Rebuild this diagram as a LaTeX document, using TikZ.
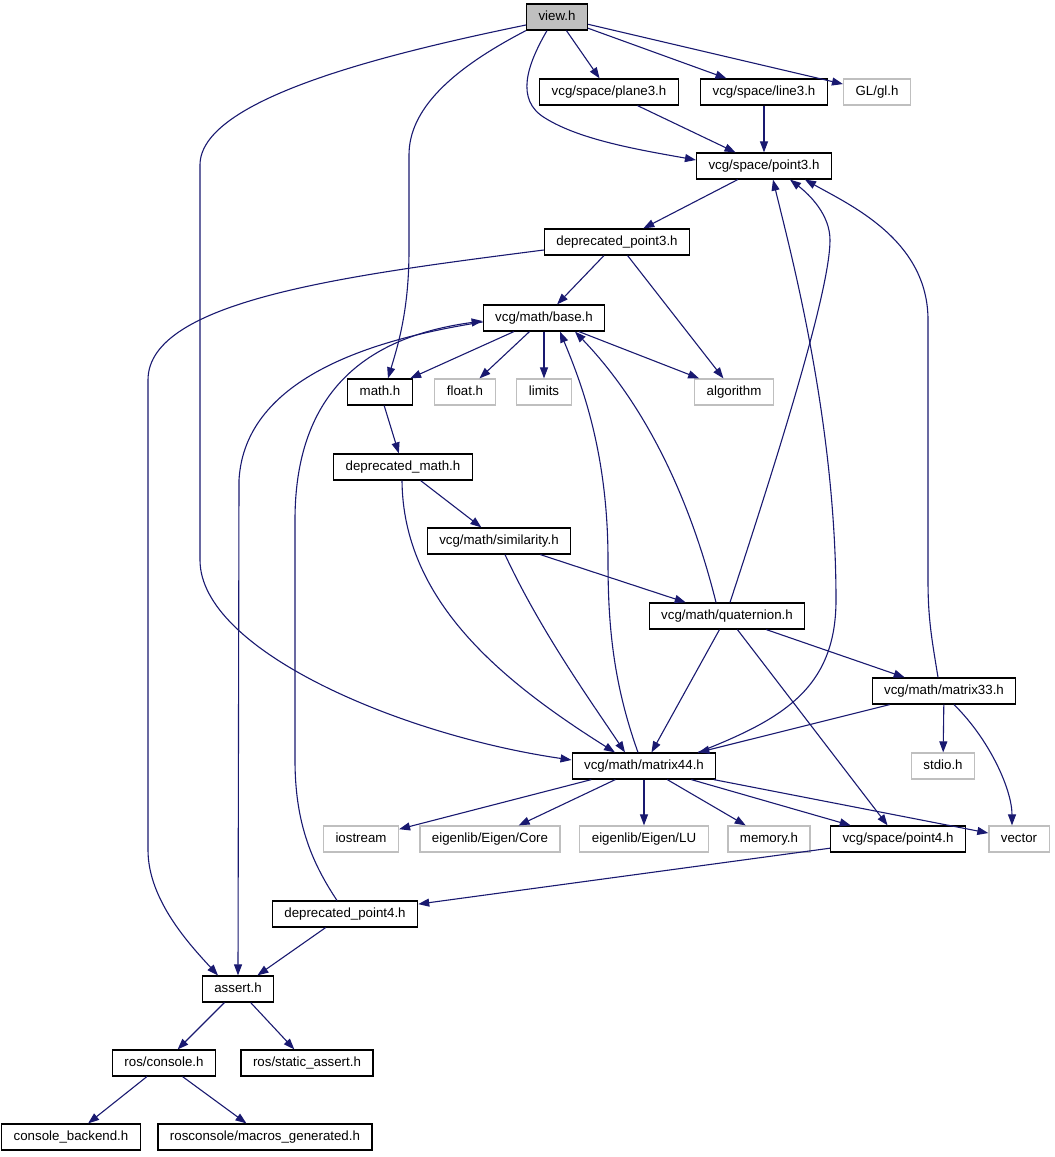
\documentclass[tikz,border=0pt]{standalone}
\usepackage{fontspec}
\setmainfont{Liberation Sans}
\usepackage{tikz}
\usetikzlibrary{arrows.meta,positioning,calc}
\definecolor{edgeblue}{HTML}{191970}
\definecolor{missgray}{HTML}{BFBFBF}
\tikzset{hdr/.style={draw=black,line width=1.2pt,rectangle,minimum height=26pt,inner xsep=12pt,inner ysep=0pt,text height=9.6pt,text depth=2.6pt,font=\fontsize{13.3}{16}\selectfont}}
\tikzset{sys/.style={hdr,draw=missgray}}
\tikzset{inc/.style={->,draw=edgeblue,line width=1.1pt}}

\begin{document}
\begin{tikzpicture}[x=1pt, y=-1pt, >={Triangle[length=11pt,width=8pt]}]
    \useasboundingbox (0,0) rectangle (1055,1157);
    \node[hdr,fill=missgray] (view) at (557,17) {view.h};

    \node[hdr] (plane) at (609,92) {vcg/space/plane3.h};
    \node[hdr] (line) at (764,92) {vcg/space/line3.h};
    \node[sys] (gl) at (877,92) {GL/gl.h};
    \node[hdr] (pointT) at (764,166) {vcg/space/point3.h};
    \node[hdr] (dpointT) at (617,242) {deprecated\_point3.h};

    \node[hdr] (base) at (544,318) {vcg/math/base.h};
    \node[hdr] (mathh) at (380,392) {math.h};
    \node[sys] (floath) at (465,392) {float.h};
    \node[sys] (limits) at (544,392) {limits};
    \node[sys] (algorithm) at (734,392) {algorithm};

    \node[hdr] (dmath) at (403,467) {deprecated\_math.h};
    \node[hdr] (simil) at (499,541) {vcg/math/similarity.h};
    \node[hdr] (quat) at (727,616) {vcg/math/quaternion.h};
    \node[hdr] (mtxT) at (944,691) {vcg/math/matrix33.h};
    \node[hdr] (mtxF) at (644,766) {vcg/math/matrix44.h};
    \node[sys] (stdio) at (943,766) {stdio.h};

    \node[sys] (iostream) at (361,839) {iostream};
    \node[sys] (ecore) at (490,839) {eigenlib/Eigen/Core};
    \node[sys] (elu) at (644,839) {eigenlib/Eigen/LU};
    \node[sys] (memory) at (769,839) {memory.h};
    \node[hdr] (pointF) at (898,839) {vcg/space/point4.h};
    \node[sys] (vector) at (1019,839) {vector};

    \node[hdr] (dpointF) at (345,914) {deprecated\_point4.h};
    \node[hdr] (assert) at (238,989) {assert.h};
    \node[hdr] (rcons) at (164,1063) {ros/console.h};
    \node[hdr] (rstatic) at (307,1063) {ros/static\_assert.h};
    \node[hdr] (cback) at (71,1137) {console\_backend.h};
    \node[hdr] (rmacros) at (265,1137) {rosconsole/macros\_generated.h};

    % straight includes
    \path (view) edge[inc] (plane);
    \path (view) edge[inc] (line);
    \path (view) edge[inc] (gl);
    \path (plane) edge[inc] (pointT);
    \path (line) edge[inc] (pointT);
    \path (pointT) edge[inc] (dpointT);
    \path (dpointT) edge[inc] (base);
    \path (dpointT) edge[inc] (algorithm);
    \path (base) edge[inc] (mathh);
    \path (base) edge[inc] (floath);
    \path (base) edge[inc] (limits);
    \path (base) edge[inc] (algorithm);
    \path (mathh) edge[inc] (dmath);
    \path (dmath) edge[inc] (simil);
    \path (simil) edge[inc] (quat);
    \path (quat) edge[inc] (mtxF);
    \path (quat) edge[inc] (mtxT);
    \path (quat) edge[inc] (pointF);
    \path (mtxT) edge[inc] (mtxF);
    \path (mtxT) edge[inc] (stdio);
    \path (mtxF) edge[inc] (iostream);
    \path (mtxF) edge[inc] (ecore);
    \path (mtxF) edge[inc] (elu);
    \path (mtxF) edge[inc] (memory);
    \path (mtxF) edge[inc] (pointF);
    \path (mtxF) edge[inc] (vector);
    \path (pointF) edge[inc] (dpointF);
    \path (dpointF) edge[inc] (assert);
    \path (assert) edge[inc] (rcons);
    \path (assert) edge[inc] (rstatic);
    \path (rcons) edge[inc] (cback);
    \path (rcons) edge[inc] (rmacros);

    % curved includes
    \draw[inc] ([xshift=-10pt]view.south) .. controls (527,65) and (515,100) .. (545,118)
        .. controls (580,140) and (640,150) .. ([yshift=6pt]pointT.west);
    \draw[inc] (view.south west) .. controls (450,70) and (409,110) .. (409,155) -- (409,250)
        .. controls (409,310) and (398,345) .. ([xshift=8pt]mathh.north);
    \draw[inc] ([yshift=-8pt]view.west) .. controls (380,55) and (200,100) .. (200,165) -- (200,560)
        .. controls (200,650) and (400,735) .. ([yshift=6pt]mtxF.west);
    \draw[inc] ([yshift=-8pt]dpointT.west) .. controls (350,275) and (148,300) .. (148,380) -- (148,850)
        .. controls (148,900) and (190,945) .. ([xshift=-20pt]assert.north);
    \draw[inc] ([yshift=-4pt]base.west) .. controls (380,338) and (245,375) .. (239,480) -- (assert.north);
    \draw[inc] ([xshift=-8pt]dpointF.north) .. controls (310,860) and (295,820) .. (295,760) -- (295,520)
        .. controls (295,380) and (380,335) .. ([yshift=-3pt]base.west);
    \draw[inc] ([xshift=-1pt]dmath.south) .. controls (403,600) and (500,680) .. ([xshift=-29pt]mtxF.north);
    \draw[inc] ([xshift=6pt]simil.south) .. controls (540,630) and (590,700) .. ([xshift=-19pt]mtxF.north);
    \draw[inc] ([xshift=-6pt]mtxF.north) .. controls (612,680) and (608,620) .. (608,560)
        .. controls (608,450) and (580,380) .. ([xshift=16pt]base.south);
    \draw[inc] ([xshift=-11pt]quat.north) .. controls (698,530) and (660,420) .. ([xshift=31pt]base.south);
    \draw[inc] ([xshift=3pt]quat.north) .. controls (780,450) and (830,290) .. (830,240)
        .. controls (830,215) and (810,195) .. ([xshift=26pt]pointT.south);
    \draw[inc] ([xshift=54pt]mtxF.north) .. controls (780,720) and (836,690) .. (836,600)
        .. controls (836,420) and (790,250) .. ([xshift=9pt]pointT.south);
    \draw[inc] ([xshift=-6pt]mtxT.north) .. controls (932,640) and (928,620) .. (928,580) -- (928,320)
        .. controls (928,240) and (850,205) .. ([xshift=41pt]pointT.south);
    \draw[inc] ([xshift=10pt]mtxT.south) .. controls (990,740) and (1012,790) .. ([xshift=-7pt]vector.north);
\end{tikzpicture}
\end{document}
